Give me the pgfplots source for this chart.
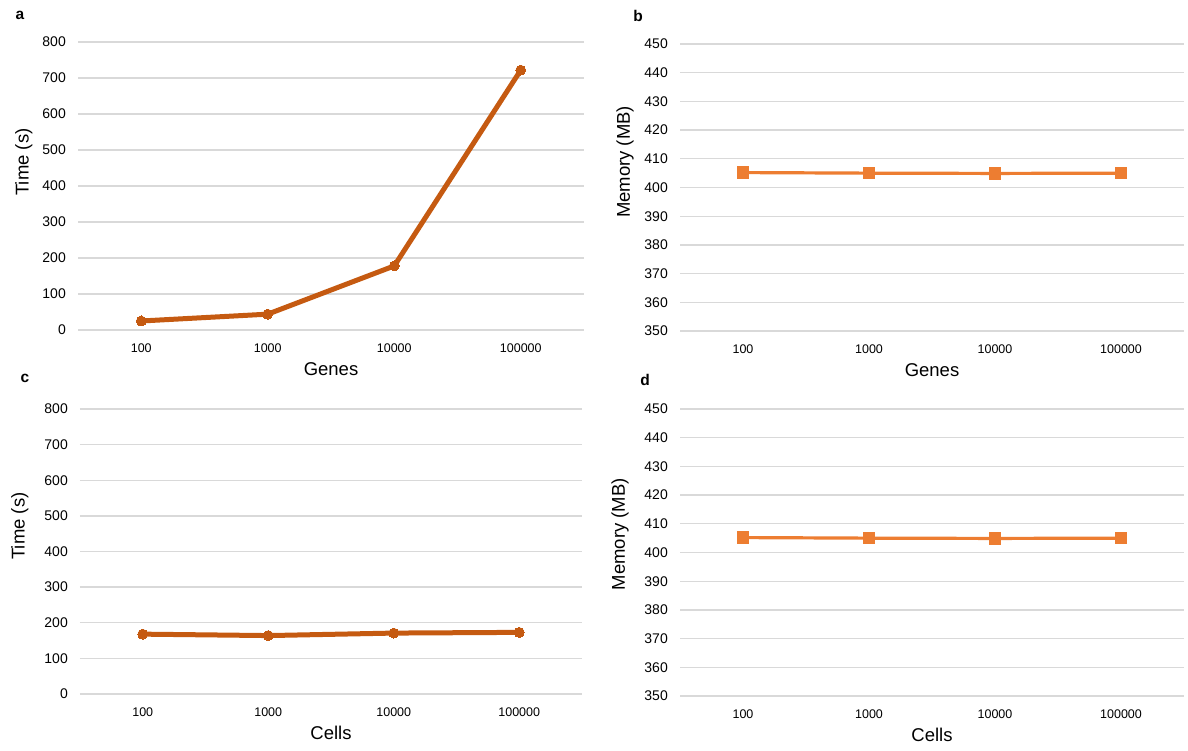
\documentclass[border=0pt]{standalone}
\usepackage{pgfplots}
\pgfplotsset{compat=1.18}
\usepackage{fontspec}
\setmainfont{Liberation Sans}
\definecolor{darkor}{HTML}{C55A11}
\definecolor{lightor}{HTML}{ED7D31}
\definecolor{gridc}{HTML}{D9D9D9}
\pgfplotsset{
  panel/.style={
    scale only axis,
    anchor=south west,
    xmin=-0.5, xmax=3.5,
    xtick={0,1,2,3},
    xticklabels={100,1000,10000,100000},
    axis line style={draw=none},
    major tick length=0pt,
    ymajorgrids,
    grid style={color=gridc, line width=1.3pt},
    /pgf/number format/assume math mode=true,
    yticklabel style={font=\fontsize{14}{16}\selectfont, inner sep=0pt, xshift=-12pt},
    xticklabel style={font=\fontsize{12.5}{14}\selectfont, inner sep=0pt, yshift=-14pt, anchor=north},
    label style={font=\fontsize{18.5}{20}\selectfont},
    xlabel style={at={(axis description cs:0.5,0)}, anchor=center, yshift=-39pt},
    clip=false,
  },
  timeplot/.style={color=darkor, line width=5pt, mark=*, mark size=5pt, mark options={line width=0pt}},
  memplot/.style={color=lightor, line width=3.2pt, mark=square*, mark size=5.8pt, mark options={line width=0pt}},
}
\begin{document}
\begin{tikzpicture}
\path[use as bounding box] (0,0) rectangle (1188pt,750pt);
% panel a
\begin{axis}[panel, at={(78pt,420pt)}, width=506pt, height=288pt,
  ymin=0, ymax=800, ytick={0,100,...,800},
  xlabel={Genes}, ylabel={Time (s)},
  ylabel style={at={(axis description cs:-0.107,0.583)}, anchor=center}]
\addplot[timeplot] coordinates {(0,25) (1,44) (2,178) (3,722)};
\end{axis}
% panel b
\begin{axis}[panel, at={(680pt,419pt)}, width=504pt, height=287pt,
  ymin=350, ymax=450, ytick={350,360,...,450},
  xlabel={Genes}, ylabel={Memory (MB)},
  ylabel style={at={(axis description cs:-0.109,0.589)}, anchor=center}]
\addplot[memplot] coordinates {(0,405.2) (1,405.0) (2,404.9) (3,405.0)};
\end{axis}
% panel c
\begin{axis}[panel, at={(80pt,56pt)}, width=502pt, height=285pt,
  ymin=0, ymax=800, ytick={0,100,...,800},
  xlabel={Cells}, ylabel={Time (s)},
  ylabel style={at={(axis description cs:-0.12,0.589)}, anchor=center}]
\addplot[timeplot] coordinates {(0,168) (1,164) (2,171) (3,173)};
\end{axis}
% panel d
\begin{axis}[panel, at={(680pt,54pt)}, width=504pt, height=287pt,
  ymin=350, ymax=450, ytick={350,360,...,450},
  xlabel={Cells}, ylabel={Memory (MB)},
  ylabel style={at={(axis description cs:-0.119,0.564)}, anchor=center}]
\addplot[memplot] coordinates {(0,405.2) (1,405.0) (2,404.9) (3,405.0)};
\end{axis}
\node[font=\fontsize{15.5}{17}\selectfont\bfseries] at (20pt,735pt) {a};
\node[font=\fontsize{15.5}{17}\selectfont\bfseries] at (638pt,734pt) {b};
\node[font=\fontsize{15.5}{17}\selectfont\bfseries] at (25pt,372pt) {c};
\node[font=\fontsize{15.5}{17}\selectfont\bfseries] at (645pt,370pt) {d};
\end{tikzpicture}
\end{document}
